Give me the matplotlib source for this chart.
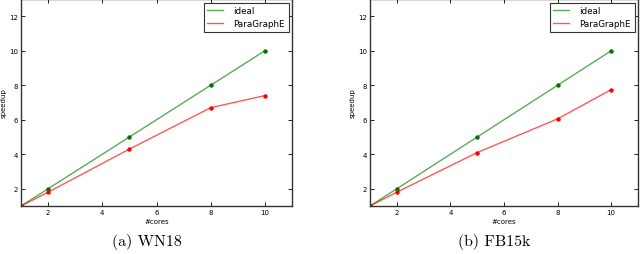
import numpy as np
import matplotlib.pyplot as plt

cores = [1, 2, 5, 8, 10]
ideal = [1, 2, 5, 8, 10]
wn18 = [1, 1.8, 4.3, 6.7, 7.4]
fb15k = [1, 1.8, 4.1, 6.05, 7.75]
captions = ['(a) WN18', '(b) FB15k']

fig = plt.figure(figsize=(6.4, 2.55), dpi=100)
ax1 = fig.add_axes([21 / 640, 48 / 255, 271 / 640, 207 / 255])
ax2 = fig.add_axes([370 / 640, 48 / 255, 268 / 640, 207 / 255])

for ax, para, cap in zip([ax1, ax2], [wn18, fb15k], captions):
    ax.plot(cores, ideal, color=(0, 0.5, 0), alpha=0.65, lw=1, label='ideal')
    ax.plot(cores, para, color='red', alpha=0.65, lw=1, label='ParaGraphE')
    ax.plot(cores, ideal, 'o', color=(0, 0.45, 0), ms=3.2, mec='none')
    ax.plot(cores, para, 'o', color='red', ms=3.2, mec='none')
    ax.set_xlim(1, 11)
    ax.set_ylim(1, 13)
    ax.set_xticks([2, 4, 6, 8, 10])
    ax.set_yticks([2, 4, 6, 8, 10, 12])
    ax.tick_params(direction='in', top=True, right=True, labelsize=5, length=3, width=0.6, pad=2)
    for s in ax.spines.values():
        s.set_linewidth(1)
        s.set_color('#333333')
    ax.set_xlabel('#cores', fontsize=5, labelpad=2)
    ax.set_ylabel('speedup', fontsize=5, labelpad=2)
    leg = ax.legend(loc='upper right', fontsize=6.3, fancybox=False, framealpha=1,
                    edgecolor='#333333', handlelength=1.8, handletextpad=1.2,
                    borderaxespad=0.4, borderpad=0.4)
    leg.get_frame().set_linewidth(0.8)
    pos = ax.get_position()
    # caption centred on the whole sub-figure, a bit left of the axes centre
    fig.text(pos.x0 + pos.width / 2 - 10 / 640, 0.02, cap, ha='center', va='bottom',
             family='cmr10', fontsize=11.5)

fig.savefig('out.png', dpi=100)
